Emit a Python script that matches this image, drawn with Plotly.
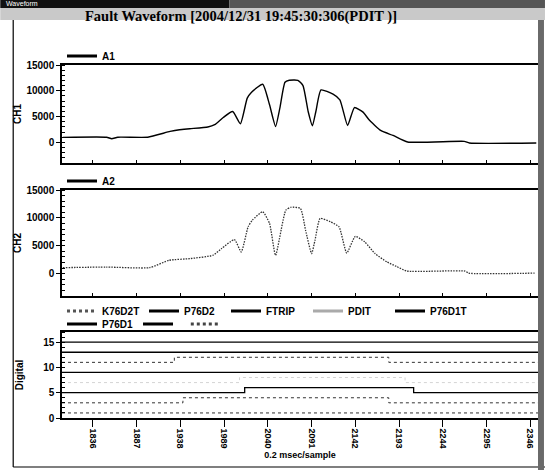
import plotly.graph_objects as go

# ---------------- data ----------------
title_text = "Fault Waveform [2004/12/31 19:45:30:306(PDIT )]"
x_title = "0.2 msec/sample"
x_range = [1800, 2355]
x_tick0, x_dtick = 1836, 51

ch1_x = [1801, 1852, 1858, 1865, 1900, 1926, 1937, 1949, 1970, 1978, 1988, 1999, 2008,
         2016, 2021, 2034, 2042, 2049, 2054, 2060, 2065, 2075, 2081, 2087, 2092, 2096,
         2102, 2116, 2124, 2133, 2141, 2151, 2158, 2172, 2186, 2203, 2269, 2275, 2353]
ch1_y = [970, 1000, 700, 1000, 1000, 2120, 2450, 2640, 2970, 3420, 4830, 5980, 3610,
         8570, 9730, 11270, 7280, 3090, 6640, 11660, 12040, 12040, 11000, 5980, 3220, 5980,
         10170, 9340, 8240, 3280, 6750, 5860, 4380, 2260, 1350, 80, 190, -120, -120]

ch2_x = [1801, 1852, 1902, 1925, 1949, 1976, 1986, 2001, 2009, 2017, 2022, 2034, 2042,
         2049, 2061, 2067, 2078, 2084, 2091, 2095, 2101, 2113, 2123, 2132, 2142, 2153,
         2165, 2179, 2190, 2202, 2270, 2274, 2351]
ch2_y = [1080, 1190, 1080, 2400, 2700, 3300, 4500, 6100, 3900, 8400, 9600, 11100, 9000,
         3300, 11400, 11900, 11700, 7800, 3600, 6000, 9900, 9300, 8400, 3700, 6700, 5700,
         3600, 2100, 1300, 470, 470, 100, 100]

digital_names = ["K76D2T", "P76D2", "FTRIP", "PDIT", "P76D1T", "P76D1", " ", "  "]
digital_samples = [
    [1800, 2355],
    [1800, 1941, 2181, 2355],
    [1800, 2013, 2210, 2355],
    [1800, 2007, 2200, 2355],
    [1800, 2355],
    [1800, 1931, 2181, 2355],
    [1800, 2355],
    [1800, 2355],
]
digital_states = [
    [0, 0],
    [0, 1, 0, 0],
    [0, 1, 0, 0],
    [0, 1, 0, 0],
    [0, 0],
    [0, 1, 0, 0],
    [0, 0],
    [0, 0],
]

# ---------------- styles ----------------
W, H = 547, 470
ML, MR, MT, MB = 62, 7, 65, 52
PW, PH = W - ML - MR, H - MT - MB


def px_x(px):
    return (px - ML) / PW


def px_y(py):
    return (H - MB - py) / PH


FONT = "Liberation Sans"
bold10 = dict(family=FONT, size=10, color="black", weight="bold")
bold9 = dict(family=FONT, size=9, color="black", weight="bold")

dig_line_styles = [
    dict(color="#333333", width=1, dash="dot"),
    dict(color="#333333", width=1, dash="dot"),
    dict(color="black", width=1.3),
    dict(color="#d4d4d4", width=1, dash="dot"),
    dict(color="black", width=1.3),
    dict(color="#333333", width=1, dash="dot"),
    dict(color="black", width=1.3),
    dict(color="black", width=1.3),
]
dig_legend_styles = [
    dict(color="#555555", width=3, dash="dot"),
    dict(color="black", width=3),
    dict(color="black", width=3),
    dict(color="#aaaaaa", width=3),
    dict(color="black", width=3),
    dict(color="black", width=3),
    dict(color="black", width=3),
    dict(color="#444444", width=3, dash="dot"),
]

fig = go.Figure()

fig.add_trace(go.Scatter(x=ch1_x, y=ch1_y, mode="lines", name="A1",
                         line=dict(color="black", width=1.4, shape="spline", smoothing=0.5),
                         xaxis="x", yaxis="y", showlegend=False))
fig.add_trace(go.Scatter(x=[None], y=[None], mode="lines", name="A1",
                         line=dict(color="black", width=3), legend="legend",
                         xaxis="x", yaxis="y"))

fig.add_trace(go.Scatter(x=ch2_x, y=ch2_y, mode="lines", name="A2",
                         line=dict(color="#333333", width=1.3, dash="1.5px,1.2px",
                                   shape="spline", smoothing=0.5),
                         xaxis="x2", yaxis="y2", showlegend=False))
fig.add_trace(go.Scatter(x=[None], y=[None], mode="lines", name="A2",
                         line=dict(color="black", width=3), legend="legend2",
                         xaxis="x2", yaxis="y2"))

for i, name in enumerate(digital_names):
    base = 2 * i + 1
    ys = [base + s for s in digital_states[i]]
    fig.add_trace(go.Scatter(x=digital_samples[i], y=ys, mode="lines", name=name,
                             line=dict(shape="hv", **dig_line_styles[i]),
                             xaxis="x3", yaxis="y3", showlegend=False))
    fig.add_trace(go.Scatter(x=[None], y=[None], mode="lines", name=name,
                             line=dig_legend_styles[i],
                             legend="legend3" if i < 5 else "legend4",
                             xaxis="x3", yaxis="y3"))

xa_common = dict(range=x_range, showline=True, linecolor="black", linewidth=1.5,
                 mirror=True, showgrid=False, zeroline=False, tick0=x_tick0, dtick=x_dtick)
ya_common = dict(showline=True, linecolor="black", linewidth=1.5, mirror=True,
                 showgrid=False, zeroline=False, ticks="outside", ticklen=4,
                 tickcolor="black", tickfont=bold10, tickformat="d")

layout = dict(
    width=W, height=H,
    margin=dict(l=ML, r=MR, t=MT, b=MB),
    paper_bgcolor="white", plot_bgcolor="white",
    xaxis=dict(domain=[0, 1], anchor="y", showticklabels=False, ticks="inside",
               ticklen=3, tickcolor="black", **xa_common),
    xaxis2=dict(domain=[0, 1], anchor="y2", showticklabels=False, ticks="inside",
                ticklen=3, tickcolor="black", **xa_common),
    xaxis3=dict(domain=[0, 1], anchor="y3", ticks="outside", ticklen=7,
                tickcolor="black", tickangle=90, tickfont=bold9,
                title=dict(text=x_title, font=bold9, standoff=4), **xa_common),
    yaxis=dict(domain=[px_y(163), 1], anchor="x", range=[-4000, 15000], tick0=0,
               dtick=5000, title=dict(text="CH1", font=bold10, standoff=3),
               minor=dict(ticks="inside", ticklen=3, tickcolor="black", dtick=1000),
               **ya_common),
    yaxis2=dict(domain=[px_y(296), px_y(190)], anchor="x2", range=[-4000, 15000],
                tick0=0, dtick=5000, title=dict(text="CH2", font=bold10, standoff=3),
                minor=dict(ticks="inside", ticklen=3, tickcolor="black", dtick=1000),
                **ya_common),
    yaxis3=dict(domain=[0, px_y(332)], anchor="x3", range=[0, 17], tick0=0, dtick=5,
                title=dict(text="Digital", font=bold10, standoff=18),
                minor=dict(ticks="inside", ticklen=3, tickcolor="black", dtick=1),
                **ya_common),
    showlegend=True,
)

leg_common = dict(orientation="h", xanchor="left", yanchor="middle", font=bold10,
                  bgcolor="rgba(0,0,0,0)", borderwidth=0, itemwidth=30,
                  tracegroupgap=0)
layout["legend"] = dict(x=0, y=px_y(56), **leg_common)
layout["legend2"] = dict(x=0, y=px_y(181), **leg_common)
layout["legend3"] = dict(x=0, y=px_y(311), entrywidth=37, entrywidthmode="pixels",
                         **leg_common)
layout["legend4"] = dict(x=0, y=px_y(324), **leg_common)

fig.update_layout(**layout)

# title
fig.add_annotation(text=title_text, xref="paper", yref="paper", x=px_x(242), y=px_y(16),
                   xanchor="center", yanchor="middle", showarrow=False,
                   font=dict(family="Liberation Serif", size=14.5, color="black",
                             weight="bold"))

# window chrome
shapes = [
    dict(type="rect", xref="paper", yref="paper", x0=px_x(0), x1=px_x(230),
         y0=px_y(8), y1=px_y(0), fillcolor="#111111", line=dict(width=0), layer="below"),
    dict(type="rect", xref="paper", yref="paper", x0=px_x(230), x1=px_x(547),
         y0=px_y(8), y1=px_y(0), fillcolor="#555555", line=dict(width=0), layer="below"),
    dict(type="rect", xref="paper", yref="paper", x0=px_x(0), x1=px_x(547),
         y0=px_y(20), y1=px_y(8), fillcolor="#c9c9c9", line=dict(width=0), layer="below"),
    dict(type="line", xref="paper", yref="paper", x0=px_x(13), x1=px_x(13),
         y0=px_y(20), y1=px_y(467), line=dict(color="black", width=1.2)),
    dict(type="line", xref="paper", yref="paper", x0=px_x(13), x1=px_x(547),
         y0=px_y(467), y1=px_y(467), line=dict(color="black", width=1.2)),
    dict(type="rect", xref="paper", yref="paper", x0=px_x(540), x1=px_x(546),
         y0=px_y(470), y1=px_y(20), fillcolor="#6a6a6a", line=dict(width=0)),
]
fig.update_layout(shapes=shapes)
fig.add_annotation(text="Waveform", xref="paper", yref="paper", x=px_x(4), y=px_y(4),
                   xanchor="left", yanchor="middle", showarrow=False,
                   font=dict(family=FONT, size=7, color="white"))

fig.write_html("out.html")
